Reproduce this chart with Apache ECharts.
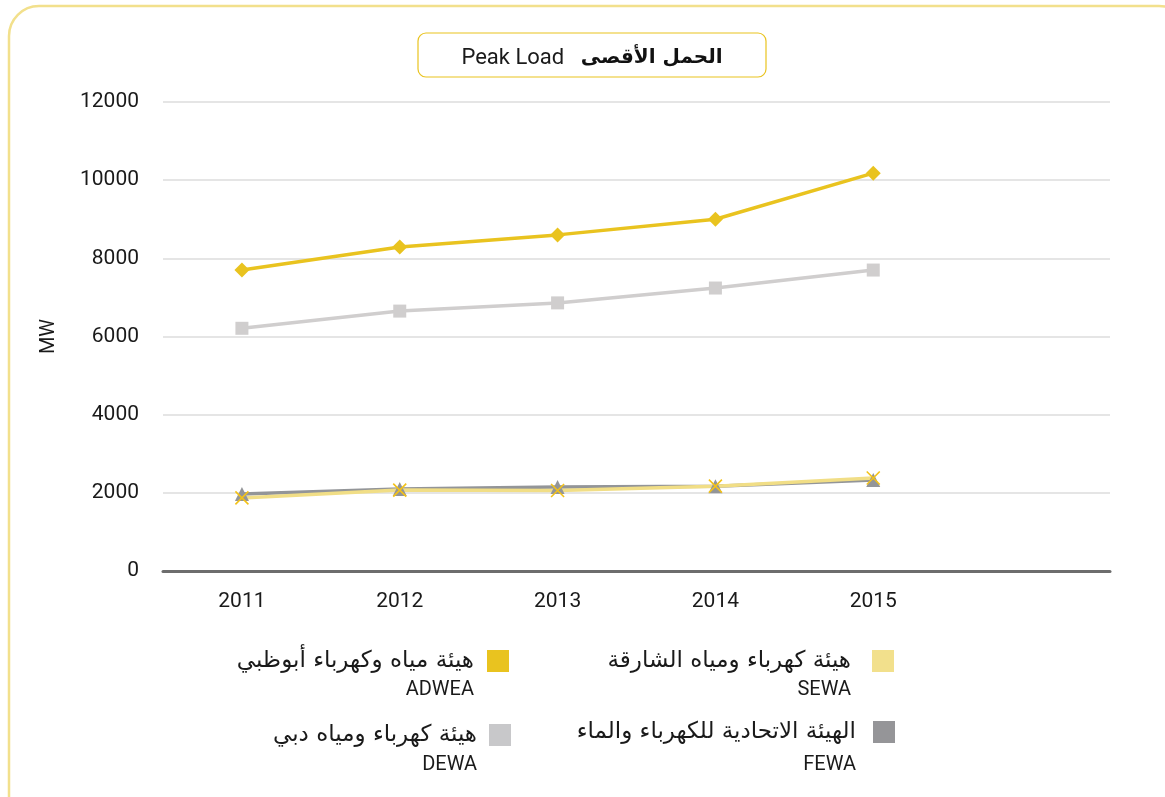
<!DOCTYPE html>
<html>
<head>
<meta charset="utf-8">
<script src="https://cdn.jsdelivr.net/npm/echarts@6/dist/echarts.min.js"></script>
<style>
  html, body { margin: 0; padding: 0; background: #ffffff; }
  #chart { width: 1165px; height: 797px; }
</style>
</head>
<body>
<div id="chart"></div>
<script>
// Years on the category axis (one extra empty slot keeps the plot wide on the right)
const years = ['2011', '2012', '2013', '2014', '2015', ''];

// Peak load, MW
const adwea = [7700, 8290, 8600, 9000, 10180];
const dewa  = [6210, 6650, 6860, 7240, 7700];
const fewa  = [1970, 2100, 2150, 2170, 2330];
const sewa  = [1870, 2070, 2060, 2170, 2380];

const yTicks = { min: 0, max: 12000, interval: 2000 };

// Series names: Arabic line + English abbreviation
const names = {
  adwea: ['هيئة مياه وكهرباء أبوظبي', 'ADWEA'],
  dewa:  ['هيئة كهرباء ومياه دبي', 'DEWA'],
  sewa:  ['هيئة كهرباء ومياه الشارقة', 'SEWA'],
  fewa:  ['الهيئة الاتحادية للكهرباء والماء', 'FEWA']
};

const titleEn = 'Peak Load';
const titleAr = 'الحمل الأقصى';

const colors = {
  adwea: '#E9C31F',
  dewa: '#D0CECE',
  sewa: '#F1DE86',
  sewaMark: '#F3C218',
  fewa: '#939598',
  adweaIcon: '#E9C31F',
  dewaIcon: '#C8C8CA',
  sewaIcon: '#F2E08C',
  fewaIcon: '#959598'
};

const FONT = 'Roboto, "DejaVu Sans", sans-serif';
const AR_FONT = '"DejaVu Sans", sans-serif';

const chart = echarts.init(document.getElementById('chart'), null, { renderer: 'canvas' });

function legendFor(key, right, top, gap, enH, iconColor) {
  return {
    data: [key],
    orient: 'vertical',
    align: 'right',
    right: right,
    top: top,
    padding: 0,
    itemWidth: 22,
    itemHeight: 22,
    icon: 'rect',
    selectedMode: false,
    itemStyle: { color: iconColor, borderWidth: 0 },
    formatter: function () {
      return '{sp| }\n{ar|' + names[key][0] + '}\n{en|' + names[key][1] + '}';
    },
    textStyle: {
      rich: {
        sp: { fontSize: 10, lineHeight: enH, align: 'right' },
        ar: { fontSize: 23, lineHeight: 29, color: '#1a1a1a', align: 'right',
              fontFamily: AR_FONT, padding: [0, gap, 0, 0] },
        en: { fontSize: 20, lineHeight: enH, color: '#1a1a1a', align: 'right',
              fontFamily: FONT, padding: [0, gap, 0, 0] }
      }
    }
  };
}

function lineSeries(key, data, color, symbol, size, extra) {
  return Object.assign({
    name: key,
    type: 'line',
    data: data,
    symbol: symbol,
    symbolSize: size,
    lineStyle: { color: color, width: 3.5 },
    itemStyle: { color: color },
    animation: false
  }, extra || {});
}

const option = {
  backgroundColor: '#ffffff',
  textStyle: { fontFamily: FONT },
  graphic: [
    {
      type: 'rect',
      shape: { x: 9, y: 6, width: 1180, height: 830, r: 30 },
      style: { fill: 'none', stroke: '#F2E08C', lineWidth: 2.5 },
      silent: true,
      z: -1
    },
    {
      type: 'rect',
      shape: { x: 418, y: 33, width: 348, height: 44, r: 8 },
      style: { fill: '#ffffff', stroke: '#E9C31F', lineWidth: 1.2 },
      silent: true
    },
    {
      type: 'text',
      x: 592,
      y: 58,
      style: {
        text: '{en|' + titleEn + '}     {ar|' + titleAr + '}',
        align: 'center',
        verticalAlign: 'middle',
        rich: {
          en: { fontSize: 22, fill: '#1a1a1a', fontFamily: FONT },
          ar: { fontSize: 20, fill: '#111', fontWeight: 'bold', fontFamily: AR_FONT }
        }
      },
      silent: true
    }
  ],
  legend: [
    legendFor('adwea', 656, 627, 8, 29, colors.adweaIcon),
    legendFor('dewa', 654, 700, 7, 31, colors.dewaIcon),
    legendFor('sewa', 271, 627, 16, 29, colors.sewaIcon),
    legendFor('fewa', 270, 694, 12, 37, colors.fewaIcon)
  ],
  grid: { left: 163, right: 55, top: 102, bottom: 226, containLabel: false },
  xAxis: {
    type: 'category',
    data: years,
    boundaryGap: true,
    axisLine: { show: true, onZero: false, lineStyle: { color: '#6d6d6d', width: 3 } },
    axisTick: { show: false },
    axisLabel: { color: '#1a1a1a', fontSize: 21, margin: 20, fontFamily: FONT },
    splitLine: { show: false }
  },
  yAxis: {
    type: 'value',
    min: yTicks.min,
    max: yTicks.max,
    interval: yTicks.interval,
    name: 'MW',
    nameLocation: 'middle',
    nameRotate: 90,
    nameGap: 104,
    nameTextStyle: { color: '#1a1a1a', fontSize: 20, fontFamily: FONT },
    axisLine: { show: false },
    axisTick: { show: false },
    axisLabel: {
      color: '#1a1a1a', fontSize: 21, margin: 24, fontFamily: FONT,
      formatter: function (v) { return String(v); }
    },
    splitLine: { lineStyle: { color: '#DCDCDC', width: 1.5 } }
  },
  series: [
    lineSeries('adwea', adwea, colors.adwea, 'diamond', 15),
    lineSeries('dewa', dewa, colors.dewa, 'rect', 13),
    lineSeries('fewa', fewa, colors.fewa, 'triangle', 14),
    lineSeries('sewa', sewa, colors.sewa, 'path://M0,0L10,10M10,0L0,10', 13, {
      itemStyle: { color: colors.sewa, borderColor: colors.sewaMark, borderWidth: 1.6 }
    })
  ]
};

chart.setOption(option);
</script>
</body>
</html>
